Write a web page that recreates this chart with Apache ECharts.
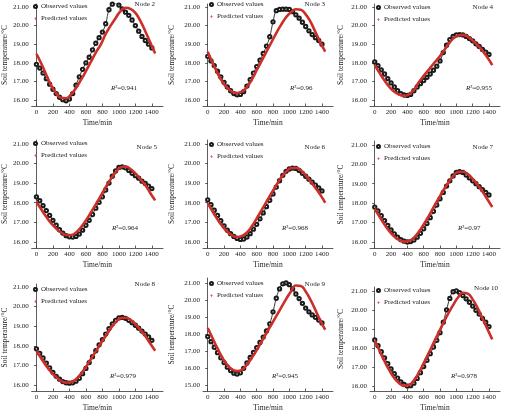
<!DOCTYPE html>
<html>
<head>
<meta charset="utf-8">
<script src="https://cdn.jsdelivr.net/npm/echarts@6/dist/echarts.min.js"></script>
<style>
html,body{margin:0;padding:0;background:#fff;}
#main{width:508px;height:413px;}
</style>
</head>
<body>
<div id="main"></div>
<script>
// time axis (min)
var obsTime = [0,40,80,120,160,200,240,280,320,360,400,440,480,520,560,600,640,680,720,760,800,840,880,920,960,1000,1040,1080,1120,1160,1200,1240,1280,1320,1360,1400];
var preTime = [0,60,120,180,240,300,360,420,480,540,600,660,720,780,840,900,960,1020,1080,1140,1200,1260,1320,1380,1440];
var xTicks = [0,200,400,600,800,1000,1200,1400];
var yTicks = [16,17,18,19,20,21];
var yTicks9 = [15,16,17,18,19,20,21];

var nodeNames = ['Node 2','Node 3','Node 4','Node 5','Node 6','Node 7','Node 8','Node 9','Node 10'];
var r2Values = ['0.941','0.96','0.955','0.964','0.968','0.97','0.979','0.945','0.978'];

// observed values
var obs2 = [17.92,17.72,17.45,17.15,16.85,16.58,16.35,16.15,16.02,15.96,16.05,16.35,16.8,17.25,17.65,18.0,18.3,18.7,19.05,19.35,19.65,20.1,20.85,21.15,21.18,21.1,20.9,20.72,20.55,20.3,20.0,19.7,19.42,19.2,19.0,18.8];
var obs3 = [18.35,18.1,17.85,17.55,17.25,16.95,16.7,16.5,16.35,16.28,16.3,16.45,16.75,17.1,17.45,17.8,18.15,18.5,18.9,19.4,20.2,20.8,20.87,20.88,20.88,20.87,20.75,20.58,20.4,20.18,19.95,19.72,19.52,19.35,19.2,19.0];
var obs4 = [18.05,17.85,17.62,17.4,17.15,16.92,16.7,16.5,16.35,16.27,16.25,16.3,16.5,16.7,16.88,17.05,17.22,17.4,17.6,17.82,18.1,18.55,18.95,19.25,19.42,19.5,19.52,19.5,19.42,19.3,19.18,19.02,18.88,18.72,18.57,18.45];
var obs5 = [18.3,18.1,17.85,17.6,17.35,17.1,16.85,16.62,16.45,16.32,16.26,16.25,16.28,16.4,16.6,16.85,17.1,17.4,17.72,18.02,18.3,18.65,19.0,19.35,19.62,19.8,19.83,19.78,19.65,19.5,19.38,19.25,19.1,18.98,18.85,18.72];
var obs6 = [18.15,17.9,17.62,17.35,17.08,16.82,16.6,16.42,16.28,16.18,16.13,16.15,16.25,16.42,16.65,16.9,17.18,17.48,17.8,18.12,18.45,18.8,19.12,19.4,19.6,19.72,19.77,19.75,19.65,19.5,19.35,19.2,19.05,18.9,18.75,18.6];
var obs7 = [17.8,17.6,17.35,17.1,16.85,16.62,16.42,16.25,16.12,16.04,16.0,16.02,16.1,16.25,16.45,16.68,16.95,17.25,17.58,17.9,18.22,18.55,18.88,19.15,19.4,19.58,19.62,19.58,19.45,19.3,19.15,19.0,18.85,18.7,18.55,18.42];
var obs8 = [17.85,17.62,17.38,17.12,16.88,16.65,16.45,16.3,16.18,16.12,16.1,16.12,16.2,16.35,16.58,16.85,17.15,17.45,17.75,18.05,18.32,18.6,18.88,19.12,19.3,19.42,19.45,19.4,19.3,19.18,19.05,18.9,18.75,18.6,18.45,18.28];
var obs9 = [17.85,17.55,17.22,16.9,16.6,16.32,16.05,15.85,15.7,15.65,15.72,15.98,16.3,16.62,16.92,17.2,17.5,17.82,18.18,18.6,19.3,20.1,20.65,20.95,21.0,20.9,20.65,20.35,20.08,19.8,19.52,19.3,19.12,18.98,18.82,18.65];
var obs10 = [18.42,18.12,17.8,17.48,17.18,16.9,16.65,16.42,16.22,16.08,16.0,16.02,16.15,16.4,16.7,17.02,17.35,17.7,18.05,18.4,18.8,19.35,20.0,20.6,20.95,21.0,20.9,20.75,20.58,20.4,20.2,19.98,19.78,19.55,19.35,19.12];

// predicted values
var pre2 = [18.48,17.95,17.35,16.78,16.36,16.12,16.1,16.3,16.65,17.08,17.55,18.05,18.55,18.98,19.55,20.0,20.4,20.78,20.96,20.9,20.68,20.25,19.7,19.1,18.5];
var pre3 = [18.6,18.0,17.45,16.98,16.65,16.45,16.38,16.45,16.7,17.1,17.6,18.1,18.6,19.1,19.6,20.05,20.45,20.72,20.88,20.85,20.6,20.2,19.65,19.1,18.6];
var pre4 = [17.88,17.45,17.05,16.7,16.45,16.3,16.22,16.3,16.55,16.95,17.3,17.62,17.95,18.25,18.6,18.98,19.3,19.47,19.5,19.4,19.2,18.95,18.65,18.3,17.88];
var pre5 = [18.05,17.65,17.28,16.95,16.68,16.48,16.36,16.35,16.48,16.75,17.1,17.5,17.92,18.35,18.8,19.2,19.55,19.8,19.85,19.72,19.5,19.2,18.9,18.5,18.12];
var pre6 = [17.98,17.55,17.15,16.8,16.52,16.33,16.25,16.3,16.48,16.8,17.2,17.62,18.05,18.48,18.9,19.28,19.58,19.76,19.78,19.65,19.4,19.08,18.75,18.4,18.0];
var pre7 = [17.72,17.3,16.9,16.55,16.28,16.1,16.02,16.05,16.22,16.52,16.9,17.32,17.78,18.22,18.65,19.05,19.38,19.6,19.62,19.5,19.25,18.95,18.6,18.2,17.8];
var pre8 = [17.75,17.35,16.98,16.65,16.4,16.22,16.13,16.15,16.3,16.58,16.92,17.32,17.72,18.12,18.5,18.88,19.2,19.4,19.43,19.32,19.1,18.82,18.5,18.12,17.75];
var pre9 = [18.35,17.75,17.15,16.6,16.18,15.92,15.82,15.9,16.2,16.6,17.05,17.55,18.05,18.55,19.05,19.55,20.05,20.5,20.85,20.82,20.5,20.0,19.4,18.78,18.25];
var pre10 = [18.4,17.85,17.3,16.82,16.42,16.15,16.02,16.05,16.3,16.7,17.2,17.72,18.25,18.78,19.3,19.8,20.25,20.65,20.9,20.85,20.55,20.1,19.55,19.0,18.45];

var observed = [obs2,obs3,obs4,obs5,obs6,obs7,obs8,obs9,obs10];
var predicted = [pre2,pre3,pre4,pre5,pre6,pre7,pre8,pre9,pre10];

// layout of the 9 panels (pixels)
var colL = [27,203,370];
var colR = [163,333,500];
var rowT = [[4,4,4],[140,140,141],[284,278,287]];
var rowB = [106,248,393];
var yMin = [[15.68,15.68,15.68],[15.69,15.69,15.69],[15.7,14.65,15.74]];
var yMax = [[21.16,21.16,21.16],[21.2,21.2,21.2],[21.15,21.29,21.2]];
var nameGapY = [21,27,25];
var legendTop = [[3,1,4],[140,141,143],[286,280,287]];
var nodeTop = [[1,1,4],[144,144,144],[281,281,285]];
var nodeRight = [353,183,15,351,183,15,353,183,10];
var r2Pos = [[111,85],[290,85],[466,85],[112,225],[282,225],[458,225],[110,373],[272,373],[451,373]];

var myChart = echarts.init(document.getElementById('main'));
var font = '"Liberation Serif","Times New Roman",serif';

var grid = [], xAxis = [], yAxis = [], series = [], legend = [], title = [];
for (var i = 0; i < 9; i++) {
	var r = Math.floor(i / 3), c = i % 3;
	grid.push({left: colL[c], right: 508 - colR[c], top: rowT[r][c], bottom: 413 - rowB[r], containLabel: false});
	xAxis.push({
		type: 'value', gridIndex: i, min: -58, max: 1535,
		name: 'Time/min', nameLocation: 'middle', nameGap: 13,
		nameTextStyle: {fontFamily: font, fontSize: 7.5, color: '#222'},
		axisLine: {lineStyle: {color: '#333', width: 0.8}},
		axisTick: {inside: true, length: 2.5, customValues: xTicks, lineStyle: {color: '#333', width: 0.8}},
		axisLabel: {customValues: xTicks, fontFamily: font, fontSize: 7, color: '#222', margin: 3,
			formatter: function(v){ return String(v); }},
		splitLine: {show: false}
	});
	var yt = (i == 7) ? yTicks9 : yTicks;
	yAxis.push({
		type: 'value', gridIndex: i, min: yMin[r][c], max: yMax[r][c],
		name: 'Soil temperature/°C', nameLocation: 'middle', nameGap: nameGapY[c],
		nameTextStyle: {fontFamily: font, fontSize: 7.5, color: '#222'},
		axisLine: {show: true, lineStyle: {color: '#333', width: 0.8}},
		axisTick: {show: true, length: 2.5, customValues: yt, lineStyle: {color: '#333', width: 0.8}},
		axisLabel: {customValues: yt, fontFamily: font, fontSize: 7, color: '#222', margin: 3,
			formatter: function(v){ return v.toFixed(2); }},
		splitLine: {show: false}
	});
	var obs = observed[i], pre = predicted[i];
	series.push({
		name: 'Observed values', type: 'line', xAxisIndex: i, yAxisIndex: i,
		smooth: true, symbol: 'emptyCircle', symbolSize: 3.3, showSymbol: true,
		lineStyle: {color: '#333', width: 1},
		itemStyle: {color: '#1a1a1a', borderWidth: 0.8},
		data: obsTime.map(function(t, k){ return [t, obs[k]]; }), z: 2
	});
	series.push({
		name: 'Predicted values', type: 'line', xAxisIndex: i, yAxisIndex: i,
		smooth: true, showSymbol: false, symbol: 'none',
		lineStyle: {color: '#cc2f2a', width: 2.6},
		itemStyle: {color: '#cc2f2a'},
		data: preTime.map(function(t, k){ return [t, pre[k]]; }), z: 3
	});
	legend.push({
		orient: 'vertical', left: colL[c] + 6, top: legendTop[r][c], itemGap: 5,
		itemWidth: 3, itemHeight: 3, padding: 0,
		textStyle: {fontFamily: font, fontSize: 7, color: '#222', padding: [0,0,0,-1]},
		data: [
			{name: 'Observed values', icon: 'emptyCircle', itemStyle: {color: '#1a1a1a', borderColor: '#1a1a1a', borderWidth: 0.6}},
			{name: 'Predicted values', icon: 'path://M3,0h2v3h3v2h-3v3h-3v-3h-3v-2h3z', itemStyle: {color: '#d05a55', borderWidth: 0}}
		],
		selectedMode: false
	});
	title.push({
		text: nodeNames[i], right: nodeRight[i], top: nodeTop[r][c], padding: 0,
		textStyle: {fontFamily: font, fontSize: 7, fontWeight: 'normal', color: '#222'}
	});
	title.push({
		text: '{i|R}²=' + r2Values[i], left: r2Pos[i][0], top: r2Pos[i][1], padding: 0,
		textStyle: {fontFamily: font, fontSize: 7, fontWeight: 'normal', color: '#222',
			rich: {i: {fontFamily: font, fontSize: 7, fontStyle: 'italic', color: '#222'}}}
	});
}

myChart.setOption({
	backgroundColor: '#fff',
	animation: false,
	title: title,
	legend: legend,
	grid: grid,
	xAxis: xAxis,
	yAxis: yAxis,
	series: series
});
</script>
</body>
</html>
